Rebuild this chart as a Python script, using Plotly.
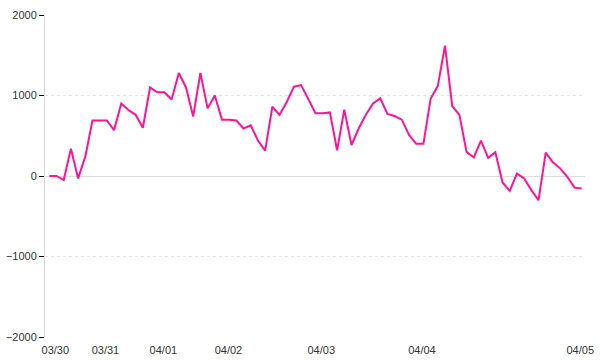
import plotly.graph_objects as go

values = [
    0, 0, -50, 340, -30, 240, 690, 690, 690, 570,
    900, 820, 760, 600, 1100, 1040, 1040, 950, 1280, 1100,
    740, 1280, 840, 1000, 700, 700, 690, 590, 630, 440,
    315, 860, 760, 920, 1110, 1130, 955, 780, 780, 790,
    320, 825, 385, 590, 760, 900, 965, 770, 745, 700,
    510, 400, 400, 960, 1120, 1620, 870, 760, 300, 230,
    440, 225, 295, -80, -185, 30, -30, -175, -300, 290,
    170, 95, -10, -145, -155,
]
index = list(range(len(values)))

tick_pos = [0.83, 7.8, 15.85, 24.9, 37.8, 51.8, 73.8]
tick_labels = ["03/30", "03/31", "04/01", "04/02", "04/03", "04/04", "04/05"]
y_ticks = [-2000, -1000, 0, 1000, 2000]

fig = go.Figure()
fig.add_trace(go.Scatter(
    x=index, y=values, mode="lines",
    line=dict(color="#ff1493", width=2),
    hoverinfo="skip", showlegend=False,
))

fig.update_layout(
    width=600, height=360,
    margin=dict(l=45, r=15, t=15, b=23),
    paper_bgcolor="white", plot_bgcolor="white",
    font=dict(family="Liberation Sans, Arial, sans-serif", size=11, color="#333"),
    xaxis=dict(
        range=[-0.6, 74.46], tickvals=tick_pos, ticktext=tick_labels,
        showgrid=False, zeroline=False, showline=False, ticks="",
        automargin=False, ticklabelstandoff=5,
        tickfont=dict(size=11, color="#333"),
    ),
    yaxis=dict(
        range=[-2000, 2000], tickvals=y_ticks,
        showgrid=True, gridcolor="#e3e3e3", griddash="dot", gridwidth=1,
        zeroline=True, zerolinecolor="#dddddd", zerolinewidth=1,
        showline=True, linecolor="#d9d9d9", linewidth=1,
        ticks="outside", ticklen=5, tickcolor="#000", tickwidth=1,
        automargin=False,
        tickfont=dict(size=11, color="#333"),
    ),
)

fig.write_html("out.html")
